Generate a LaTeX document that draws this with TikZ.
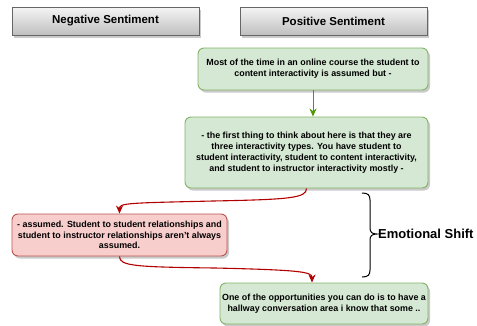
\documentclass[tikz,border=0pt]{standalone}
\usepackage{fontspec}
\setmainfont{Liberation Sans}
\usetikzlibrary{arrows.meta,shadows}
\definecolor{gfill}{HTML}{D5E8D4}
\definecolor{gdraw}{HTML}{82B366}
\definecolor{rfill}{HTML}{F8CECC}
\definecolor{rdraw}{HTML}{B85450}
\definecolor{garrow}{HTML}{4D9900}
\definecolor{rarrow}{HTML}{B20000}
\definecolor{hdraw}{HTML}{666666}
\tikzset{
  shad/.style={drop shadow={shadow xshift=2pt, shadow yshift=-2.5pt, opacity=0.35, fill=black!60}},
  header/.style={draw=hdraw, line width=0.8pt, top color=white!96!black, bottom color=black!25,
    minimum width=187pt, minimum height=28pt, inner sep=0pt, shad,
    font=\fontsize{11.5}{13}\selectfont\bfseries},
  gbox/.style={draw=gdraw, fill=gfill, line width=0.9pt, rounded corners=6pt, shad,
    inner sep=0pt, align=center, font=\fontsize{8.9}{10.8}\selectfont\bfseries},
  rbox/.style={gbox, draw=rdraw, fill=rfill},
  garr/.style={draw=garrow, line width=1pt, -{Stealth[length=8pt,width=7pt,inset=2.5pt]}},
  rarr/.style={draw=rarrow, line width=1.1pt, -{Stealth[length=8pt,width=7pt,inset=2.5pt]}},
  bracestyle/.style={draw=black, line width=1pt},
  shiftlabel/.style={font=\fontsize{13}{15}\selectfont\bfseries, inner sep=0pt, anchor=west}
}
\begin{document}
\begin{tikzpicture}[x=1pt,y=-1pt]
\useasboundingbox (0,0) rectangle (477,325);
\node[header] (neg) at (105.5,21) {Negative Sentiment};
\node[header] (pos) at (333.5,21) {Positive Sentiment};
\node[gbox, minimum width=230pt, minimum height=42pt] (b1) at (313,69)
  {Most of the time in an online course the student to\\content interactivity is assumed but -};
\node[gbox, minimum width=243pt, minimum height=71pt] (b2) at (306.5,152.5)
  {- the first thing to think about here is that they are\\three interactivity types. You have student to\\student interactivity, student to content interactivity,\\and student to instructor interactivity mostly -};
\node[rbox, minimum width=215pt, minimum height=42pt] (r1) at (119.5,235)
  {- assumed. Student to student relationships and\\student to instructor relationships aren't always\\assumed.};
\node[gbox, minimum width=208pt, minimum height=41pt] (b3) at (324,303.5)
  {One of the opportunities you can do is to have a\\hallway conversation area i know that some ..};
\draw[garr] (b1.south) -- (b1.south |- b2.north);
\draw[rarr] (b2.south) .. controls (306.5,198) and (290,199.5) .. (213,201)
  .. controls (128,203) and (119.5,203) .. (r1.north);
\coordinate (t3) at ([xshift=-12pt]b3.north);
\draw[rarr] (r1.south) .. controls (119.5,266) and (135,267) .. (215,268)
  .. controls (302,270) and (312,272) .. (t3);
\coordinate (bt) at (362,193);
\coordinate (bb) at (362,277);
\coordinate (tip) at (377,234);
\draw[bracestyle] (bt) .. controls (368,193) and (370,195) .. (370,200) -- (370,228)
  .. controls (370,232) and (372,234) .. (tip)
  .. controls (372,234) and (370,236) .. (370,240) -- (370,270)
  .. controls (370,275) and (368,277) .. (bb);
\node[shiftlabel] (shift) at (378,234) {Emotional Shift};
\end{tikzpicture}
\end{document}
